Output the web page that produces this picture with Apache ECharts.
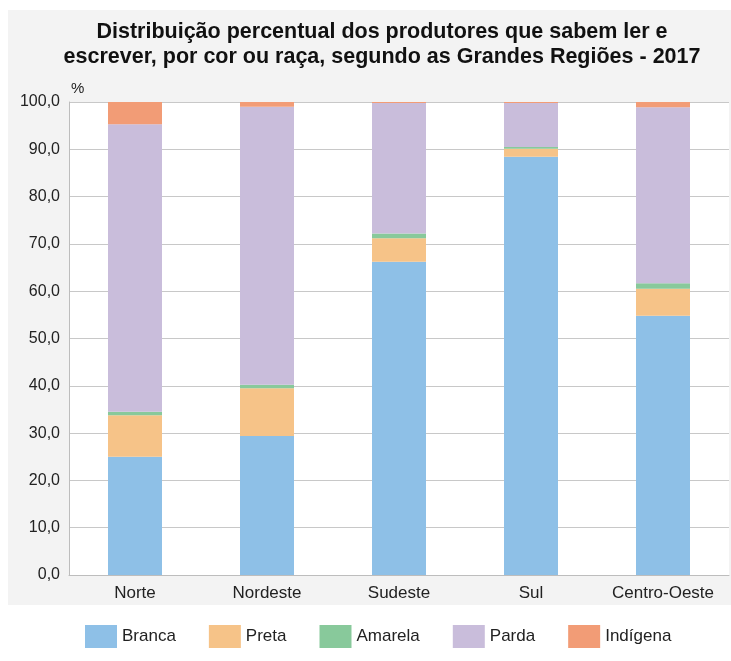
<!DOCTYPE html>
<html><head><meta charset="utf-8">
<script src="https://cdn.jsdelivr.net/npm/echarts@6/dist/echarts.min.js"></script>
<style>html,body{margin:0;padding:0;background:#fff}#c{width:731px;height:661px}</style>
</head><body><div id="c"></div>
<script>
const categories = ['Norte', 'Nordeste', 'Sudeste', 'Sul', 'Centro-Oeste'];
const branca   = [25.0, 29.4, 66.2, 88.4, 54.8];
const preta    = [8.8, 10.1, 5.0, 1.7, 5.7];
const amarela  = [0.7, 0.7, 1.0, 0.4, 1.2];
const parda    = [60.8, 58.8, 27.6, 9.3, 37.2];
const indigena = [4.7, 1.0, 0.2, 0.2, 1.1];
const seriesNames = ['Branca', 'Preta', 'Amarela', 'Parda', 'Indígena'];
const colors = ['#8ec0e7', '#f6c388', '#88c99b', '#c9bddb', '#f29c76'];
const yTicks = [0, 10, 20, 30, 40, 50, 60, 70, 80, 90, 100];

const FONT = '"Liberation Sans", Arial, sans-serif';
const chart = echarts.init(document.getElementById('c'), null, {renderer: 'canvas'});
const dataSets = [branca, preta, amarela, parda, indigena];
chart.setOption({
  animation: false,
  backgroundColor: '#ffffff',
  graphic: [{
    type: 'rect', z: -10, silent: true,
    shape: {x: 8, y: 10, width: 723, height: 595},
    style: {fill: '#f3f3f3'}
  }],
  title: {
    text: 'Distribuição percentual dos produtores que sabem ler e\nescrever, por cor ou raça, segundo as Grandes Regiões - 2017',
    left: 377, top: 15, textAlign: 'center',
    textStyle: {fontFamily: FONT, fontWeight: 'bold', fontSize: 21.5, color: '#111', lineHeight: 25}
  },
  grid: {left: 69, right: 2, top: 102, bottom: 86, show: true, backgroundColor: '#ffffff', borderWidth: 0},
  legend: {
    data: seriesNames, bottom: 8, left: 80,
    itemWidth: 32, itemHeight: 23, itemGap: 33,
    icon: 'rect',
    textStyle: {fontFamily: FONT, fontSize: 17, color: '#222'}
  },
  xAxis: {
    type: 'category', data: categories,
    axisLine: {lineStyle: {color: '#bdbdbd'}},
    axisTick: {show: false},
    axisLabel: {fontFamily: FONT, fontSize: 17, color: '#222', margin: 10, interval: 0}
  },
  yAxis: {
    type: 'value', min: 0, max: 100, interval: 10,
    name: '%', nameLocation: 'end', nameGap: 6,
    nameTextStyle: {fontFamily: FONT, fontSize: 15, color: '#222', align: 'left', padding: [0,0,0,2]},
    axisLine: {show: true, lineStyle: {color: '#bdbdbd'}},
    axisTick: {show: false},
    splitLine: {lineStyle: {color: '#c8c8c8'}},
    axisLabel: {fontFamily: FONT, fontSize: 16, color: '#222', margin: 9,
      formatter: v => yTicks.includes(v) ? v.toFixed(1).replace('.', ',') : ''}
  },
  series: seriesNames.map((n, i) => ({
    name: n, type: 'bar', stack: 'total', barWidth: 54,
    itemStyle: {color: colors[i]},
    data: dataSets[i]
  }))
});
</script></body></html>
